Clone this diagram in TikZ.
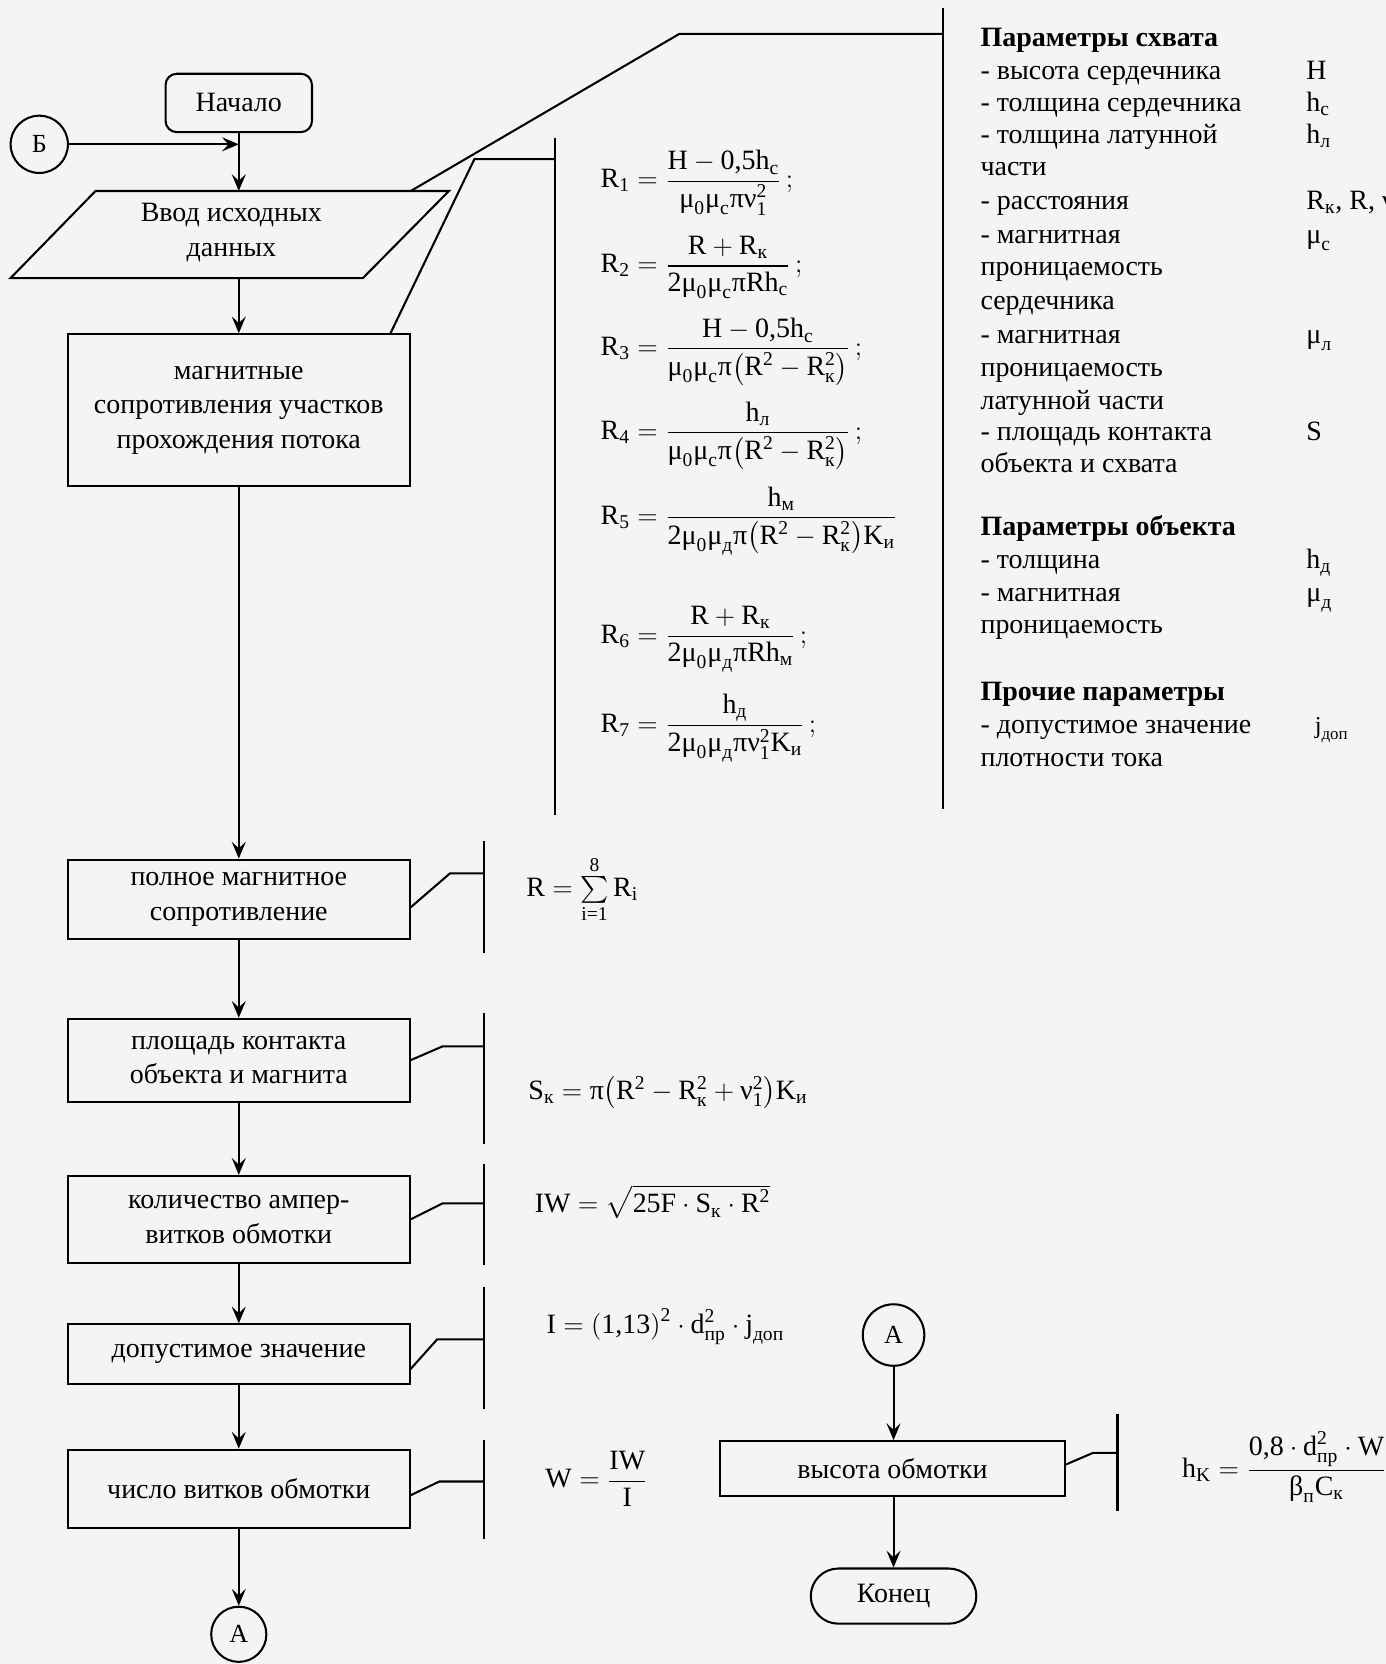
\documentclass[tikz,border=0pt]{standalone}
\usepackage{amsmath}
\usepackage{fontspec}
\setmainfont{Liberation Serif}
\usetikzlibrary{arrows.meta,calc}
\newcommand{\tx}[1]{\text{#1}}
\newcommand{\pr}[1]{{\left(#1\right)}}
\definecolor{bgc}{RGB}{244,244,244}
\begin{document}
\begin{tikzpicture}[x=0.02cm,y=-0.02cm,line width=1.1pt,
  box/.style={draw,rectangle,align=center,inner sep=2pt,font=\fontsize{15}{18.5}\selectfont},
  circ/.style={draw,circle,inner sep=0pt,font=\fontsize{14}{16}\selectfont},
  arr/.style={-{Stealth[length=9pt,width=7.5pt,inset=3.5pt]}},
  rt/.style={anchor=base west,inner sep=0pt,font=\fontsize{15}{18}\selectfont},
  rth/.style={anchor=base west,inner sep=0pt,font=\fontsize{15}{18}\selectfont\bfseries},
  fm/.style={anchor=base west,inner sep=0pt,font=\fontsize{15}{18}\selectfont}]
\fill[bgc] (0,0) rectangle (1306,1568);
\useasboundingbox (0,0) rectangle (1306,1568);

% ---------- left flow ----------
\node[box,rounded corners=6pt,minimum width=2.76cm,minimum height=1.1cm] (nach) at (225,97) {Начало};
\node[circ,minimum size=1.08cm] (B) at (37,136) {Б};

\coordinate (p1) at (90,180);
\coordinate (p2) at (423,180);
\coordinate (p3) at (342,262);
\coordinate (p4) at (10,262);
\draw (p1) -- (p2) -- (p3) -- (p4) -- cycle;
\node[box,draw=none] (vvod) at (218,219) {Ввод исходных\\данных};
\coordinate (vvodN) at (225,180);
\coordinate (vvodS) at (225,262);
\coordinate (vvodR) at (387,180);

\node[box,minimum width=6.44cm,minimum height=2.86cm] (magn) at (225,386.5) {магнитные\\сопротивления участков\\прохождения потока};
\node[box,minimum width=6.44cm,minimum height=1.5cm] (poln) at (225,847.5) {полное магнитное\\сопротивление};
\node[box,minimum width=6.44cm,minimum height=1.56cm] (plosh) at (225,999) {площадь контакта\\объекта и магнита};
\node[box,minimum width=6.44cm,minimum height=1.64cm] (kol) at (225,1149) {количество ампер-\\витков обмотки};
\node[box,minimum width=6.44cm,minimum height=1.12cm] (dop) at (225,1276) {допустимое значение};
\node[box,minimum width=6.44cm,minimum height=1.48cm] (chis) at (225,1403) {число витков обмотки};
\node[circ,minimum size=1.04cm] (A1) at (225,1540) {А};

\draw[arr] (B.east) -- (B.east -| nach.south);
\draw[arr] (nach.south) -- (vvodN);
\draw[arr] (vvodS) -- (magn.north);
\draw[arr] (magn.south) -- (poln.north);
\draw[arr] (poln.south) -- (plosh.north);
\draw[arr] (plosh.south) -- (kol.north);
\draw[arr] (kol.south) -- (dop.north);
\draw[arr] (dop.south) -- (chis.north);
\draw[arr] (chis.south) -- (A1.north);

% ---------- brackets ----------
\coordinate (bt1) at (889,8);
\coordinate (bb1) at (889,762);
\coordinate (bk1) at (640,32);
\coordinate (bm1) at (889,32);
\draw (bt1) -- (bb1);
\draw (vvodR) -- (bk1) -- (bm1);

\coordinate (bt2) at (523,130);
\coordinate (bb2) at (523,768);
\coordinate (bk2) at (447,150);
\coordinate (bm2) at (523,150);
\draw (bt2) -- (bb2);
\draw ([xshift=-0.38cm]magn.north east) -- (bk2) -- (bm2);

\coordinate (bt3) at (456,792);
\coordinate (bb3) at (456,898);
\coordinate (bk3) at (424,823);
\coordinate (bm3) at (456,823);
\draw (bt3) -- (bb3);
\draw ([yshift=-0.15cm]poln.east) -- (bk3) -- (bm3);

\coordinate (bt4) at (456,955);
\coordinate (bb4) at (456,1078);
\coordinate (bk4) at (417,986);
\coordinate (bm4) at (456,986);
\draw (bt4) -- (bb4);
\draw (plosh.east) -- (bk4) -- (bm4);

\coordinate (bt5) at (456,1097);
\coordinate (bb5) at (456,1192);
\coordinate (bk5) at (417,1134);
\coordinate (bm5) at (456,1134);
\draw (bt5) -- (bb5);
\draw (kol.east) -- (bk5) -- (bm5);

\coordinate (bt6) at (456,1213);
\coordinate (bb6) at (456,1328);
\coordinate (bk6) at (412,1262);
\coordinate (bm6) at (456,1262);
\draw (bt6) -- (bb6);
\draw ([yshift=-0.28cm]dop.east) -- (bk6) -- (bm6);

\coordinate (bt7) at (456,1357);
\coordinate (bb7) at (456,1450);
\coordinate (bk7) at (414,1396);
\coordinate (bm7) at (456,1396);
\draw (bt7) -- (bb7);
\draw ([yshift=-0.12cm]chis.east) -- (bk7) -- (bm7);

% ---------- right bottom ----------
\node[circ,minimum size=1.16cm] (A2) at (842,1258) {А};
\node[box,minimum width=6.5cm,minimum height=1.04cm] (vys) at (841,1384) {высота обмотки};
\node[box,rounded corners=0.52cm,minimum width=3.12cm,minimum height=1.04cm] (kon) at (842,1504) {Конец};
\draw[arr] (A2.south) -- (vys.north -| A2.south);
\draw[arr] (vys.south -| A2.south) -- (kon.north);

\coordinate (bt8) at (1053,1332);
\coordinate (bb8) at (1053,1424);
\coordinate (bk8) at (1030,1369);
\coordinate (bm8) at (1053,1369);
\draw (bt8) -- (bb8);
\draw ([yshift=0.08cm]vys.east) -- (bk8) -- (bm8);

% ---------- formulas ----------
\node[fm] (f1) at (565,177) {$\tx{R}_{\tx{1}}=\dfrac{\tx{H}-\tx{0,5h}_{\tx{с}}}{\tx{μ}_{\tx{0}}\tx{μ}_{\tx{с}}\tx{πν}_{\tx{1}}^{\tx{2}}}\,;$};
\node[fm] (f2) at (565,257) {$\tx{R}_{\tx{2}}=\dfrac{\tx{R}+\tx{R}_{\tx{к}}}{\tx{2μ}_{\tx{0}}\tx{μ}_{\tx{с}}\tx{πRh}_{\tx{с}}}\,;$};
\node[fm] (f3) at (565,335) {$\tx{R}_{\tx{3}}=\dfrac{\tx{H}-\tx{0,5h}_{\tx{с}}}{\tx{μ}_{\tx{0}}\tx{μ}_{\tx{с}}\tx{π}\pr{\tx{R}^{\tx{2}}-\tx{R}_{\tx{к}}^{\tx{2}}}}\,;$};
\node[fm] (f4) at (565,414) {$\tx{R}_{\tx{4}}=\dfrac{\tx{h}_{\tx{л}}}{\tx{μ}_{\tx{0}}\tx{μ}_{\tx{с}}\tx{π}\pr{\tx{R}^{\tx{2}}-\tx{R}_{\tx{к}}^{\tx{2}}}}\,;$};
\node[fm] (f5) at (565,494) {$\tx{R}_{\tx{5}}=\dfrac{\tx{h}_{\tx{м}}}{\tx{2μ}_{\tx{0}}\tx{μ}_{\tx{д}}\tx{π}\pr{\tx{R}^{\tx{2}}-\tx{R}_{\tx{к}}^{\tx{2}}}\tx{K}_{\tx{и}}}$};
\node[fm] (f6) at (565,606) {$\tx{R}_{\tx{6}}=\dfrac{\tx{R}+\tx{R}_{\tx{к}}}{\tx{2μ}_{\tx{0}}\tx{μ}_{\tx{д}}\tx{πRh}_{\tx{м}}}\,;$};
\node[fm] (f7) at (565,690) {$\tx{R}_{\tx{7}}=\dfrac{\tx{h}_{\tx{д}}}{\tx{2μ}_{\tx{0}}\tx{μ}_{\tx{д}}\tx{πν}_{\tx{1}}^{\tx{2}}\tx{K}_{\tx{и}}}\,;$};
\node[fm] (f8) at (495,845) {$\tx{R}=\sum\limits_{\tx{i=1}}^{\tx{8}}\tx{R}_{\tx{i}}$};
\node[fm] (f9) at (497,1036) {$\tx{S}_{\tx{к}}=\tx{π}\pr{\tx{R}^{\tx{2}}-\tx{R}_{\tx{к}}^{\tx{2}}+\tx{ν}_{\tx{1}}^{\tx{2}}}\tx{K}_{\tx{и}}$};
\node[fm] (f10) at (503,1143) {$\tx{IW}=\sqrt{\tx{25F}\cdot\tx{S}_{\tx{к}}\cdot\tx{R}^{\tx{2}}}$};
\node[fm] (f11) at (514,1257) {$\tx{I}=\pr{\tx{1,13}}^{\tx{2}}\cdot\tx{d}_{\tx{пр}}^{\tx{2}}\cdot\tx{j}_{\tx{доп}}$};
\node[fm] (f12) at (513,1402) {$\tx{W}=\dfrac{\tx{IW}}{\tx{I}}$};
\node[fm] (f13) at (1113,1392) {$\tx{h}_{\tx{K}}=\dfrac{\tx{0,8}\cdot\tx{d}_{\tx{пр}}^{\tx{2}}\cdot\tx{W}}{\tx{β}_{\tx{п}}\tx{C}_{\tx{к}}}$};

% ---------- right column ----------
\node[rth] (h1) at (923,44) {Параметры схвата};
\node[rt] (l1) at (923,75) {- высота сердечника};
\node[rt] (l2) at (923,105) {- толщина сердечника};
\node[rt] (l3) at (923,135) {- толщина латунной};
\node[rt] (l4) at (923,165) {части};
\node[rt] (l5) at (923,197) {- расстояния};
\node[rt] (l6) at (923,229) {- магнитная};
\node[rt] (l7) at (923,260) {проницаемость};
\node[rt] (l8) at (923,292) {сердечника};
\node[rt] (l9) at (923,324) {- магнитная};
\node[rt] (l10) at (923,355) {проницаемость};
\node[rt] (l11) at (923,386) {латунной части};
\node[rt] (l12) at (923,415) {- площадь контакта};
\node[rt] (l13) at (923,445) {объекта и схвата};
\node[rth] (h2) at (923,505) {Параметры объекта};
\node[rt] (l14) at (923,536) {- толщина};
\node[rt] (l15) at (923,567) {- магнитная};
\node[rt] (l16) at (923,597) {проницаемость};
\node[rth] (h3) at (923,660) {Прочие параметры};
\node[rt] (l17) at (923,691) {- допустимое значение};
\node[rt] (l18) at (923,722) {плотности тока};

\node[rt] (s1) at (1230,75) {H};
\node[rt] (s2) at (1230,105) {$\tx{h}_{\tx{с}}$};
\node[rt] (s3) at (1230,135) {$\tx{h}_{\tx{л}}$};
\node[rt] (s5) at (1230,197) {$\tx{R}_{\tx{к}}$, R, $\tx{ν}_{\tx{1}}$};
\node[rt] (s6) at (1230,229) {$\tx{μ}_{\tx{с}}$};
\node[rt] (s9) at (1230,324) {$\tx{μ}_{\tx{л}}$};
\node[rt] (s12) at (1230,415) {S};
\node[rt] (s14) at (1230,536) {$\tx{h}_{\tx{д}}$};
\node[rt] (s15) at (1230,567) {$\tx{μ}_{\tx{д}}$};
\node[rt,font=\fontsize{13}{16}\selectfont] (s17) at (1238,691) {$\tx{j}_{\tx{доп}}$};
\end{tikzpicture}
\end{document}
